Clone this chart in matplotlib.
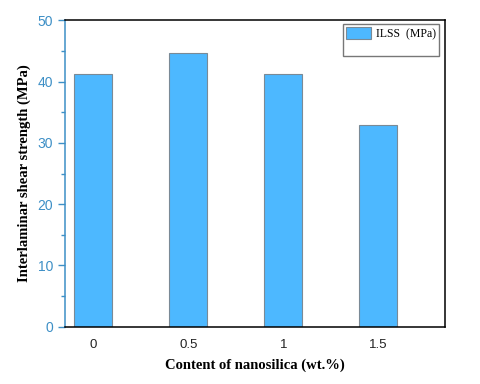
import matplotlib
matplotlib.use("Agg")
import matplotlib.pyplot as plt
from matplotlib.patches import Patch
from matplotlib.ticker import MultipleLocator

categories = ["0", "0.5", "1", "1.5"]
ilss = [41.2, 44.6, 41.2, 32.9]

bar_color = "#4db8ff"
edge_color = "#7a8a96"
blue_axis = "#3d8fc6"

fig = plt.figure(figsize=(4.8, 3.84), dpi=100)
ax = fig.add_axes([0.1354, 0.149, 0.7916, 0.798])

x = list(range(len(categories)))
ax.bar(x, ilss, width=0.4, color=bar_color, edgecolor=edge_color, linewidth=0.8, zorder=2)

ax.set_xlim(-0.3, 3.7)
ax.set_ylim(0, 50)
ax.set_xticks(x)
ax.set_xticklabels(categories, family="Liberation Sans", fontsize=9.5, color="#222222")
ax.yaxis.set_major_locator(MultipleLocator(10))
ax.yaxis.set_minor_locator(MultipleLocator(5))
for lab in ax.get_yticklabels():
    lab.set_family("Liberation Sans")
ax.tick_params(axis="y", which="major", direction="out", length=5, width=1,
               color=blue_axis, labelcolor=blue_axis, labelsize=10)
ax.tick_params(axis="y", which="minor", direction="out", length=3, width=1, color=blue_axis)
ax.tick_params(axis="x", length=0, pad=9)

ax.spines["left"].set_color(blue_axis)
for s in ["top", "right", "bottom"]:
    ax.spines[s].set_color("black")
for s in ax.spines.values():
    s.set_linewidth(1.1)

ax.set_ylabel("Interlaminar shear strength (MPa)", family="Liberation Serif",
              fontweight="bold", fontsize=10.5, labelpad=5)
ax.set_xlabel("Content of nanosilica (wt.%)", family="Liberation Serif",
              fontweight="bold", fontsize=10.5, labelpad=5)

handles = [Patch(facecolor=bar_color, edgecolor=edge_color, linewidth=0.8),
           Patch(facecolor="none", edgecolor="none")]
leg = ax.legend(handles, ["ILSS  (MPa)", " "], loc="upper right",
                bbox_to_anchor=(0.99, 0.995), fancybox=False, edgecolor="#555555",
                prop={"family": "Liberation Serif", "size": 8.5},
                handlelength=2.1, handleheight=1.1, handletextpad=0.4,
                borderpad=0.25, labelspacing=0.05, borderaxespad=0.2)
leg.get_frame().set_linewidth(1.0)

fig.savefig("out.png", dpi=100)
